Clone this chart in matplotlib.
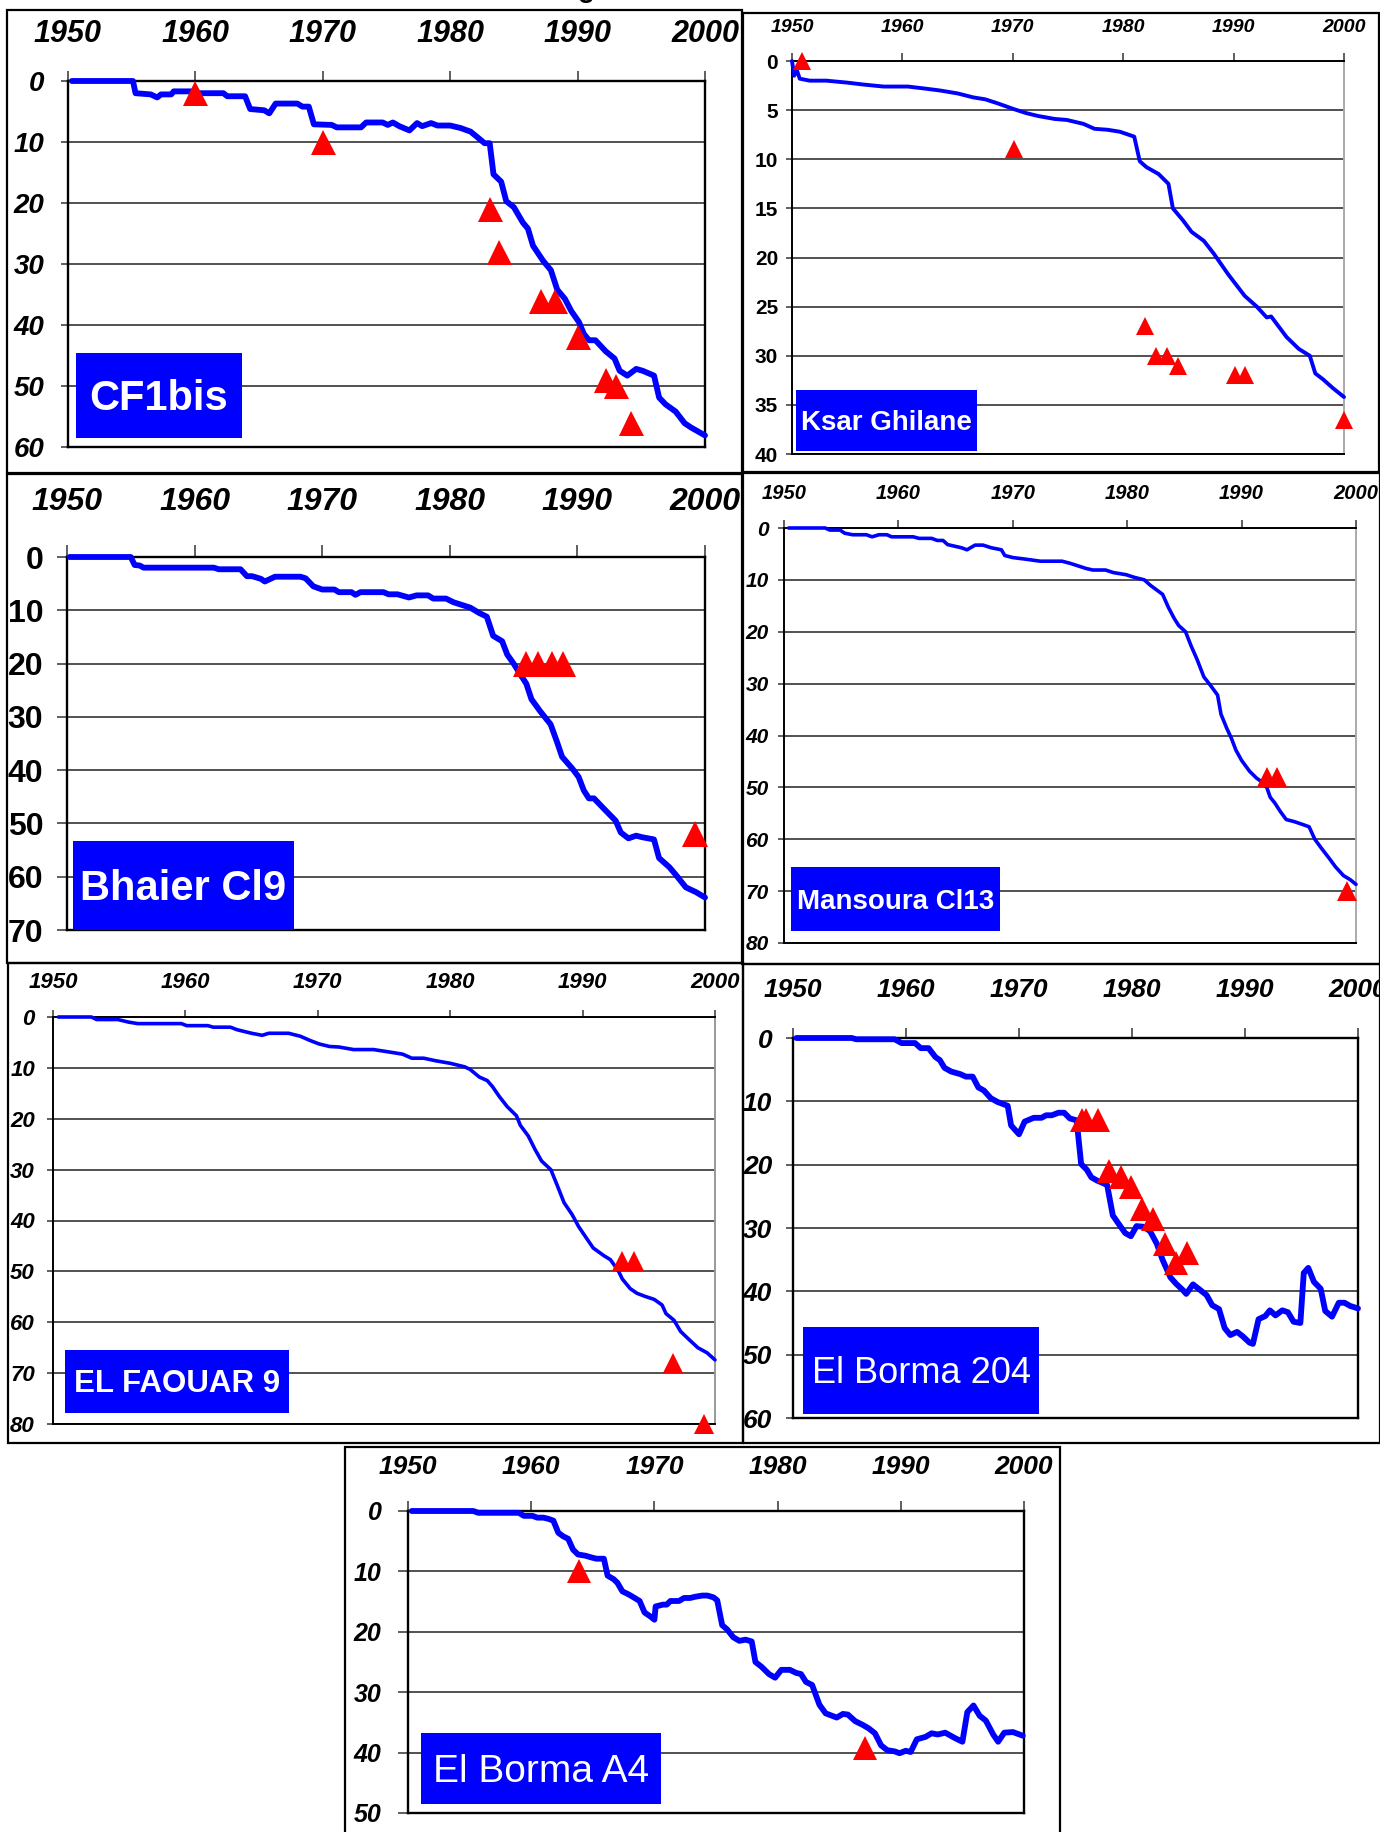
import matplotlib
matplotlib.use('Agg')
import matplotlib.pyplot as plt
from matplotlib.patches import Rectangle

W, H = 1380, 1832
NARROW = ['Liberation Sans Narrow', 'Liberation Sans', 'DejaVu Sans']
WIDE = ['Liberation Sans', 'DejaVu Sans']
BLUE = '#0000ff'
RED = '#ff0000'

YEAR_TICKS = [1950, 1960, 1970, 1980, 1990, 2000]

# ---- CF1bis ----
cf1bis_year = [1950.3, 1955.1, 1955.3, 1956.5, 1957.0, 1957.3, 1958.1, 1958.3, 1959.9, 1960.1,
               1962.2, 1962.5, 1963.9, 1964.3, 1965.4, 1965.8, 1966.3, 1968.0, 1968.4, 1968.9,
               1969.3, 1970.7, 1971.1, 1973.0, 1973.4, 1974.7, 1975.1, 1975.5, 1976.0, 1976.8,
               1977.4, 1977.8, 1978.5, 1979.0, 1980.0, 1980.8, 1981.6, 1982.3, 1982.7, 1983.1,
               1983.4, 1984.0, 1984.4, 1985.0, 1985.7, 1986.1, 1986.5, 1987.3, 1987.9, 1988.4,
               1989.0, 1989.5, 1990.1, 1990.5, 1990.9, 1991.4, 1992.2, 1992.9, 1993.3, 1993.9,
               1994.6, 1995.1, 1996.0, 1996.4, 1996.9, 1997.7, 1998.4, 1998.9, 2000.0]
cf1bis_depth = [0, 0, 2.0, 2.2, 2.7, 2.2, 2.2, 1.7, 1.7, 2.0,
                2.0, 2.5, 2.5, 4.6, 4.8, 5.3, 3.7, 3.7, 4.2, 4.2,
                7.1, 7.2, 7.6, 7.6, 6.8, 6.8, 7.2, 6.8, 7.4, 8.1,
                6.9, 7.4, 6.9, 7.3, 7.3, 7.7, 8.3, 9.5, 10.2, 10.2,
                15.3, 16.5, 19.7, 20.7, 23.2, 24.2, 27.0, 29.5, 31.0, 34.2,
                35.7, 37.7, 39.5, 41.5, 42.5, 42.5, 44.3, 45.5, 47.5, 48.3,
                47.2, 47.5, 48.3, 51.9, 53.0, 54.2, 56.1, 56.8, 58.1]
cf1bis_obs_year = [1960.0, 1970.0, 1983.1, 1983.8, 1987.1, 1988.2, 1990.0, 1992.2, 1993.0, 1994.2]
cf1bis_obs_depth = [2, 10, 21, 28, 36, 36, 42, 49, 50, 56]

# ---- Ksar Ghilane ----
ksar_year = [1950.0, 1950.2, 1950.4, 1950.7, 1951.6, 1953.1, 1955.0, 1956.5, 1958.3, 1960.5,
             1962.0, 1963.4, 1965.0, 1966.4, 1967.5, 1968.6, 1970.1, 1971.2, 1972.3, 1973.8,
             1974.9, 1976.4, 1977.4, 1978.6, 1979.7, 1981.0, 1981.5, 1982.1, 1983.2, 1984.1,
             1984.5, 1985.4, 1986.2, 1987.3, 1988.2, 1989.5, 1991.0, 1992.1, 1993.0, 1993.4,
             1994.8, 1995.9, 1996.9, 1997.4, 1998.1, 1999.0, 2000.0]
ksar_depth = [0, 1.5, 0.8, 1.8, 2.0, 2.0, 2.2, 2.4, 2.6, 2.6,
              2.8, 3.0, 3.3, 3.7, 3.9, 4.3, 4.9, 5.3, 5.6, 5.9,
              6.0, 6.4, 6.9, 7.0, 7.2, 7.7, 10.2, 10.8, 11.5, 12.5,
              15.0, 16.2, 17.4, 18.3, 19.6, 21.7, 23.9, 25.0, 26.1, 26.0,
              28.1, 29.3, 30.0, 31.8, 32.4, 33.3, 34.2]
ksar_obs_year = [1950.9, 1970.1, 1982.0, 1983.0, 1984.0, 1985.0, 1990.1, 1991.0, 2000.0]
ksar_obs_depth = [0, 9, 27, 30, 30, 31, 32, 32, 36.5]

# ---- Bhaier Cl9 ----
bhaier_year = [1950.2, 1955.0, 1955.3, 1955.7, 1956.0, 1961.5, 1961.9, 1963.6, 1964.1, 1964.5,
               1965.2, 1965.5, 1966.3, 1968.3, 1968.7, 1969.3, 1970.0, 1970.96, 1971.3, 1972.3,
               1972.6, 1973.0, 1974.8, 1975.2, 1975.9, 1976.8, 1977.4, 1978.3, 1978.7, 1979.7,
               1980.3, 1981.6, 1982.3, 1982.9, 1983.4, 1984.1, 1984.5, 1985.0, 1985.6, 1986.0,
               1986.4, 1987.1, 1987.9, 1988.4, 1988.8, 1989.6, 1990.1, 1990.5, 1990.9, 1991.3,
               1992.1, 1993.0, 1993.4, 1994.0, 1994.6, 1995.1, 1996.0, 1996.4, 1997.2, 1997.7,
               1998.5, 1999.3, 2000.0]
bhaier_depth = [0, 0, 1.5, 1.6, 2.0, 2.0, 2.3, 2.3, 3.6, 3.6,
                4.1, 4.6, 3.7, 3.7, 4.0, 5.5, 6.1, 6.1, 6.6, 6.6,
                7.1, 6.6, 6.6, 7.0, 7.0, 7.6, 7.2, 7.2, 7.8, 7.8,
                8.5, 9.5, 10.5, 11.2, 14.8, 15.8, 18.3, 20.0, 22.3, 23.8,
                26.7, 29.0, 31.4, 34.7, 37.5, 39.7, 41.3, 43.8, 45.3, 45.3,
                47.3, 49.5, 51.7, 52.8, 52.3, 52.6, 53.0, 56.5, 58.2, 59.6,
                62.0, 62.9, 63.9]
bhaier_obs_year = [1986.0, 1986.9, 1988.0, 1988.9, 1999.2]
bhaier_obs_depth = [20, 20, 20, 20, 52]

# ---- Mansoura Cl13 ----
mansoura_year = [1950.4, 1953.6, 1954.0, 1954.9, 1955.3, 1956.0, 1957.2, 1957.7, 1958.3, 1959.0,
                 1959.4, 1961.3, 1961.8, 1962.9, 1963.4, 1963.9, 1964.3, 1965.5, 1966.0, 1966.7,
                 1967.4, 1968.1, 1969.0, 1969.3, 1970.0, 1971.1, 1972.4, 1974.3, 1975.0, 1975.7,
                 1976.4, 1977.0, 1978.1, 1978.8, 1979.9, 1980.6, 1981.5, 1982.0, 1983.1, 1983.6,
                 1984.1, 1984.5, 1985.1, 1985.6, 1986.1, 1986.7, 1987.3, 1987.9, 1988.2, 1988.7,
                 1989.1, 1989.5, 1990.0, 1990.7, 1991.3, 1991.8, 1992.2, 1992.5, 1992.9, 1993.4,
                 1993.9, 1994.6, 1995.4, 1995.9, 1996.4, 1997.0, 1997.7, 1998.2, 1998.9, 1999.5,
                 2000.0]
mansoura_depth = [0, 0, 0.4, 0.4, 1.0, 1.3, 1.3, 1.7, 1.3, 1.3,
                  1.7, 1.7, 2.0, 2.0, 2.4, 2.4, 3.2, 3.8, 4.2, 3.3,
                  3.3, 3.8, 4.2, 5.3, 5.7, 6.0, 6.4, 6.4, 6.8, 7.3,
                  7.8, 8.1, 8.1, 8.6, 9.0, 9.5, 10.0, 11.0, 12.8, 15.3,
                  17.4, 18.8, 20.0, 22.8, 25.3, 28.7, 30.4, 32.2, 35.9, 38.6,
                  40.5, 42.8, 44.8, 46.9, 48.2, 49.0, 50.0, 51.9, 53.0, 54.7,
                  56.2, 56.6, 57.2, 57.6, 60.0, 61.8, 63.8, 65.3, 67.0, 67.8,
                  68.7]
mansoura_obs_year = [1992.2, 1993.1, 1999.2]
mansoura_obs_depth = [48, 48, 70]

# ---- EL FAOUAR 9 ----
faouar_year = [1950.4, 1952.9, 1953.3, 1954.9, 1955.7, 1956.4, 1959.7, 1960.1, 1961.7, 1962.1,
               1963.4, 1963.9, 1965.0, 1965.8, 1966.3, 1967.8, 1968.7, 1969.4, 1970.1, 1970.9,
               1971.6, 1972.7, 1974.2, 1975.2, 1976.4, 1977.1, 1978.0, 1978.9, 1980.0, 1981.1,
               1981.5, 1982.2, 1982.8, 1983.2, 1983.7, 1984.3, 1985.0, 1985.3, 1985.9, 1986.4,
               1986.9, 1987.6, 1988.1, 1988.6, 1989.2, 1989.7, 1990.3, 1990.8, 1991.6, 1992.1,
               1992.7, 1993.0, 1993.6, 1994.1, 1994.7, 1995.4, 1996.0, 1996.3, 1996.9, 1997.4,
               1998.0, 1998.7, 1999.4, 2000.0]
faouar_depth = [0, 0, 0.5, 0.5, 1.0, 1.3, 1.3, 1.7, 1.7, 2.0,
                2.0, 2.5, 3.2, 3.6, 3.2, 3.2, 3.8, 4.6, 5.3, 5.8,
                5.9, 6.4, 6.4, 6.8, 7.3, 8.1, 8.1, 8.6, 9.1, 9.8,
                10.3, 11.8, 12.5, 13.7, 15.6, 17.6, 19.4, 21.3, 23.4, 26.0,
                28.3, 30.0, 33.2, 36.5, 38.8, 41.2, 43.5, 45.4, 46.9, 47.7,
                49.9, 51.5, 53.4, 54.3, 54.9, 55.5, 56.6, 58.3, 59.6, 61.8,
                63.3, 65.0, 66.0, 67.4]
faouar_obs_year = [1993.0, 1993.9, 1996.8, 1999.2]
faouar_obs_depth = [48, 48, 68, 80]

# ---- El Borma 204 ----
borma204_year = [1950.3, 1955.2, 1955.6, 1959.0, 1959.6, 1960.8, 1961.3, 1962.0, 1962.6, 1963.0,
                 1963.4, 1964.0, 1964.8, 1965.3, 1965.9, 1966.4, 1966.9, 1967.5, 1968.1, 1969.0,
                 1969.3, 1970.0, 1970.5, 1970.9, 1971.3, 1972.0, 1972.4, 1972.9, 1973.5, 1974.0,
                 1974.5, 1975.1, 1975.5, 1976.0, 1976.4, 1976.9, 1977.8, 1978.3, 1978.8, 1979.4,
                 1979.9, 1980.4, 1981.0, 1981.6, 1982.2, 1982.7, 1983.4, 1983.9, 1984.5, 1984.8,
                 1985.4, 1985.9, 1986.6, 1987.1, 1987.7, 1988.2, 1988.7, 1989.3, 1989.8, 1990.4,
                 1990.7, 1991.2, 1991.8, 1992.2, 1992.7, 1993.3, 1993.8, 1994.3, 1994.9, 1995.2,
                 1995.6, 1996.1, 1996.7, 1997.1, 1997.7, 1998.3, 1998.8, 1999.3, 2000.0]
borma204_depth = [0, 0, 0.2, 0.2, 0.8, 0.8, 1.6, 1.6, 3.0, 3.5,
                  4.7, 5.3, 5.7, 6.1, 6.1, 7.8, 8.3, 9.5, 10.1, 10.7,
                  13.8, 15.2, 13.2, 12.9, 12.6, 12.6, 12.2, 12.2, 11.8, 11.8,
                  12.7, 13.0, 19.9, 20.8, 22.0, 22.5, 23.2, 28.0, 29.3, 30.8,
                  31.3, 29.7, 29.8, 30.5, 32.5, 35.0, 37.8, 38.8, 39.8, 40.4,
                  38.9, 39.6, 40.6, 42.2, 42.8, 45.8, 46.9, 46.4, 47.1, 48.1,
                  48.3, 44.4, 43.9, 43.0, 43.8, 43.0, 43.3, 44.8, 45.0, 37.1,
                  36.3, 38.5, 39.6, 43.1, 44.0, 41.8, 41.8, 42.3, 42.7]
borma204_obs_year = [1975.6, 1975.9, 1977.0, 1978.0, 1979.0, 1979.9, 1980.9, 1981.9,
                     1982.9, 1983.9, 1984.9]
borma204_obs_depth = [13, 13, 13, 21, 22, 23.5, 27, 28.5, 32.5, 35.5, 34]

# ---- El Borma A4 ----
bormaA4_year = [1950.3, 1955.3, 1955.7, 1959.0, 1959.4, 1960.1, 1960.5, 1961.0, 1961.4, 1961.8,
                1962.2, 1962.6, 1963.0, 1963.4, 1963.8, 1964.4, 1964.9, 1965.3, 1965.9, 1966.2,
                1966.7, 1967.0, 1967.4, 1967.9, 1968.4, 1968.8, 1969.2, 1969.7, 1970.0, 1970.1,
                1970.7, 1971.0, 1971.3, 1972.0, 1972.4, 1972.9, 1973.3, 1973.9, 1974.3, 1974.8,
                1975.1, 1975.5, 1975.9, 1976.4, 1976.9, 1977.4, 1977.9, 1978.2, 1978.7, 1979.3,
                1979.8, 1980.3, 1981.0, 1981.5, 1981.9, 1982.3, 1982.8, 1983.4, 1983.9, 1984.8,
                1985.3, 1985.7, 1986.3, 1986.9, 1987.4, 1987.9, 1988.4, 1988.9, 1989.5, 1989.9,
                1990.4, 1990.8, 1991.3, 1992.0, 1992.5, 1993.0, 1993.6, 1994.4, 1995.0, 1995.4,
                1995.9, 1996.4, 1996.9, 1997.5, 1997.9, 1998.4, 1999.1, 1999.9]
bormaA4_depth = [0, 0, 0.3, 0.3, 0.8, 0.8, 1.1, 1.1, 1.3, 1.6,
                 3.6, 4.2, 4.6, 6.4, 7.2, 7.4, 7.7, 7.9, 7.9, 10.7,
                 11.3, 11.9, 13.3, 13.8, 14.4, 14.9, 16.8, 17.5, 18.0, 15.8,
                 15.5, 15.5, 14.9, 14.9, 14.4, 14.4, 14.2, 14.0, 14.0, 14.3,
                 14.8, 18.9, 19.6, 20.9, 21.5, 21.3, 21.6, 25.0, 25.8, 27.0,
                 27.6, 26.3, 26.3, 26.8, 27.0, 28.3, 28.8, 32.1, 33.5, 34.2,
                 33.6, 33.7, 34.8, 35.4, 36.0, 36.8, 38.8, 39.6, 39.8, 40.1,
                 39.7, 39.9, 37.8, 37.4, 36.8, 37.0, 36.7, 37.6, 38.2, 33.3,
                 32.2, 33.9, 34.7, 37.0, 38.2, 36.7, 36.6, 37.2]
bormaA4_obs_year = [1963.9, 1987.1]
bormaA4_obs_depth = [10, 39.2]


def fig_box(left, top, right, bottom):
    return [left / W, 1 - bottom / H, (right - left) / W, (bottom - top) / H]


def add_rect(fig, box, **kw):
    x, y, w, h = fig_box(*box)
    fig.add_artist(Rectangle((x, y), w, h, transform=fig.transFigure, **kw))


def draw_panel(fig, p, years, depths, obs_years, obs_depths):
    add_rect(fig, p['frame'], fill=False, ec='black', lw=1.6)

    ax = fig.add_axes(fig_box(*p['plot']))
    ax.plot(years, depths, color=BLUE, lw=p['lw'], solid_joinstyle='round',
            solid_capstyle='round', clip_on=False, zorder=3)
    ax.plot(obs_years, obs_depths, ls='none', marker='^', ms=p['ms'], color=RED,
            mec=RED, mew=0, clip_on=False, zorder=4)

    ax.set_xlim(1950, 2000)
    ax.set_ylim(p['ymax'], 0)
    ax.set_xticks(YEAR_TICKS)
    ax.set_yticks(range(0, p['ymax'] + 1, p['ystep']))
    ax.xaxis.tick_top()
    ax.tick_params(axis='x', direction='out', length=p['xlen'], width=1.2,
                   pad=p['xpad'], labelsize=p['xsize'], top=True, bottom=False,
                   labeltop=True, labelbottom=False, color='#444444')
    ax.tick_params(axis='y', direction='out', length=p['ylen'], width=1.2,
                   pad=p['ypad'], labelsize=p['ysize'], color='#444444')
    for lab in ax.get_xticklabels():
        lab.set_family(NARROW)
        lab.set_fontweight('bold')
        lab.set_fontstyle('italic')
    for lab in ax.get_yticklabels():
        lab.set_family(NARROW)
        lab.set_fontweight('bold')
        lab.set_fontstyle('italic' if p['yitalic'] else 'normal')

    ax.yaxis.grid(True, color='#222222', lw=1.1)
    for side, sp in ax.spines.items():
        sp.set_linewidth(p['spine'])
        sp.set_color('black')
    ax.spines['right'].set_color(p['right'])

    # blue name box
    add_rect(fig, p['box'], fill=True, fc=BLUE, ec='none')
    l, t, r, b = p['box']
    em = p['tsize'] * 100 / 72
    base = (t + b) / 2 + 0.70 * em / 2
    fig.text((l + r) / 2 / W, 1 - base / H, p['label'], color='white',
             fontsize=p['tsize'], fontweight=p['tweight'], family=p['tfam'],
             ha='center', va='baseline')


fig = plt.figure(figsize=(W / 100, H / 100), dpi=100)
fig.patch.set_facecolor('white')

panels = [
    dict(frame=(7, 10, 742, 473), plot=(68, 81, 705, 447), ymax=60, ystep=10,
         lw=4.2, ms=18, xsize=22, ysize=20, xpad=16, ypad=12, xlen=7, ylen=5,
         yitalic=True, spine=1.7, right='black',
         box=(76, 353, 242, 438), label='CF1bis', tsize=30, tweight='bold', tfam=WIDE),
    dict(frame=(743, 13, 1379, 472), plot=(792, 61, 1344, 454), ymax=40, ystep=5,
         lw=2.8, ms=13, xsize=14, ysize=15, xpad=12, ypad=6, xlen=6, ylen=4,
         yitalic=False, spine=1.4, right='#aaaaaa',
         box=(796, 390, 977, 451), label='Ksar Ghilane', tsize=20, tweight='bold', tfam=WIDE),
    dict(frame=(7, 474, 743, 963), plot=(67, 557, 705, 930), ymax=70, ystep=10,
         lw=4.2, ms=19, xsize=23, ysize=23, xpad=20, ypad=10, xlen=9, ylen=7,
         yitalic=False, spine=1.7, right='black',
         box=(73, 841, 294, 930), label='Bhaier Cl9', tsize=30, tweight='bold', tfam=WIDE),
    dict(frame=(742, 473, 1380, 964), plot=(784, 528, 1356, 943), ymax=80, ystep=10,
         lw=2.6, ms=14, xsize=14.5, ysize=15, xpad=12, ypad=7, xlen=6, ylen=4,
         yitalic=True, spine=1.4, right='#aaaaaa',
         box=(791, 867, 1000, 931), label='Mansoura Cl13', tsize=20, tweight='bold', tfam=WIDE),
    dict(frame=(8, 963, 743, 1443), plot=(53, 1017, 715, 1424), ymax=80, ystep=10,
         lw=2.6, ms=15, xsize=16, ysize=16, xpad=12, ypad=9, xlen=5, ylen=4,
         yitalic=True, spine=1.4, right='#999999',
         box=(65, 1350, 289, 1413), label='EL FAOUAR 9', tsize=22.5, tweight='bold', tfam=WIDE),
    dict(frame=(743, 964, 1380, 1443), plot=(793, 1038, 1358, 1418), ymax=60, ystep=10,
         lw=4.2, ms=17, xsize=19, ysize=19, xpad=19, ypad=10, xlen=7, ylen=5,
         yitalic=True, spine=1.7, right='black',
         box=(803, 1327, 1039, 1414), label='El Borma 204', tsize=26, tweight='normal', tfam=WIDE),
    dict(frame=(345, 1447, 1060, 1840), plot=(408, 1511, 1024, 1813), ymax=50, ystep=10,
         lw=4.2, ms=17, xsize=19, ysize=18, xpad=16, ypad=12, xlen=7, ylen=7,
         yitalic=True, spine=1.7, right='black',
         box=(421, 1733, 661, 1804), label='El Borma A4', tsize=28, tweight='normal', tfam=WIDE),
]

series = [
    (cf1bis_year, cf1bis_depth, cf1bis_obs_year, cf1bis_obs_depth),
    (ksar_year, ksar_depth, ksar_obs_year, ksar_obs_depth),
    (bhaier_year, bhaier_depth, bhaier_obs_year, bhaier_obs_depth),
    (mansoura_year, mansoura_depth, mansoura_obs_year, mansoura_obs_depth),
    (faouar_year, faouar_depth, faouar_obs_year, faouar_obs_depth),
    (borma204_year, borma204_depth, borma204_obs_year, borma204_obs_depth),
    (bormaA4_year, bormaA4_depth, bormaA4_obs_year, bormaA4_obs_depth),
]

for p, s in zip(panels, series):
    draw_panel(fig, p, *s)

# tail of the cut-off figure title at the very top
fig.text(586 / W, 1 + 3 / H, 'g', fontsize=20, fontweight='bold', family=WIDE,
         ha='center', va='baseline')

fig.savefig('out.png', dpi=100, facecolor='white')
